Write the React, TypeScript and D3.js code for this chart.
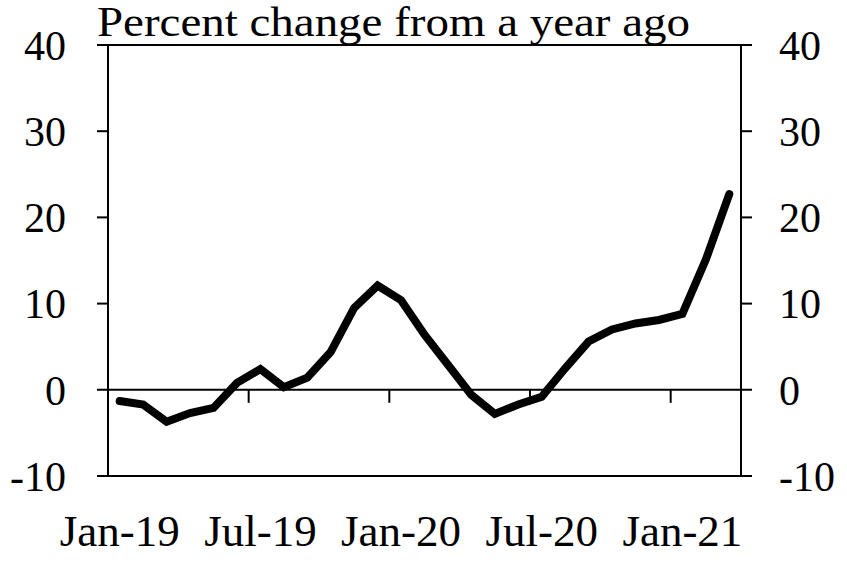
import React from "react";
import * as d3 from "d3";

const months = [
  "Jan-19","Feb-19","Mar-19","Apr-19","May-19","Jun-19","Jul-19","Aug-19","Sep-19","Oct-19","Nov-19","Dec-19",
  "Jan-20","Feb-20","Mar-20","Apr-20","May-20","Jun-20","Jul-20","Aug-20","Sep-20","Oct-20","Nov-20","Dec-20",
  "Jan-21","Feb-21","Mar-21",
];
const values = [
  -1.3, -1.7, -3.7, -2.7, -2.1, 0.8, 2.4, 0.3, 1.4, 4.4, 9.5, 12.1,
  10.4, 6.4, 2.9, -0.6, -2.8, -1.7, -0.8, 2.5, 5.6, 7.0, 7.7, 8.1,
  8.8, 15.1, 22.7,
];
const yTicks = [-10, 0, 10, 20, 30, 40];
const xLabelMonths = ["Jan-19", "Jul-19", "Jan-20", "Jul-20", "Jan-21"];
const xTickMonths = ["Jul-19", "Jan-20", "Jul-20", "Jan-21"];
const title = "Percent change from a year ago";

const W = 847, H = 564;
const L = 108, R = 741, T = 45, B = 476;
const FONT = "'Liberation Serif', 'Times New Roman', serif";

export default function App() {
  const x = d3.scaleBand<string>().domain(months).range([L, R]).padding(0);
  const y = d3.scaleLinear().domain([-10, 40]).range([B, T]);
  const cx = (m: string) => (x(m) as number) + x.bandwidth() / 2;
  const line = d3
    .line<number>()
    .x((_, i) => cx(months[i]))
    .y((v) => y(v));
  const tick = 11;

  return (
    <svg width={W} height={H} style={{ position: "absolute", left: 0, top: 0, background: "#fff" }}>
      <rect x={0} y={0} width={W} height={H} fill="#fff" />
      <line x1={L} x2={L} y1={T} y2={B} stroke="#000" strokeWidth={2} />
      <line x1={R} x2={R} y1={T} y2={B} stroke="#000" strokeWidth={2} />
      {yTicks.map((t) => {
        const full = t === -10 || t === 0 || t === 40;
        return (
          <g key={t}>
            {full ? (
              <line x1={L - tick} x2={R + tick} y1={y(t)} y2={y(t)} stroke="#000" strokeWidth={2} />
            ) : (
              <>
                <line x1={L - tick} x2={L} y1={y(t)} y2={y(t)} stroke="#000" strokeWidth={2} />
                <line x1={R} x2={R + tick} y1={y(t)} y2={y(t)} stroke="#000" strokeWidth={2} />
              </>
            )}
            <text x={66} y={y(t)} dy="0.35em" textAnchor="end" fontFamily={FONT} fontSize={42} fill="#000">
              {t}
            </text>
            <text x={779} y={y(t)} dy="0.35em" textAnchor="start" fontFamily={FONT} fontSize={42} fill="#000">
              {t}
            </text>
          </g>
        );
      })}
      {xTickMonths.map((m) => (
        <line key={m} x1={x(m)} x2={x(m)} y1={y(0)} y2={y(0) + 13} stroke="#000" strokeWidth={2} />
      ))}
      {xLabelMonths.map((m) => (
        <text key={m} x={cx(m)} y={546} textAnchor="middle" fontFamily={FONT} fontSize={45} fill="#000">
          {m}
        </text>
      ))}
      <text x={97} y={36} fontFamily={FONT} fontSize={42} textLength={593} lengthAdjust="spacingAndGlyphs" fill="#000">
        {title}
      </text>
      <path
        d={line(values) || ""}
        fill="none"
        stroke="#000"
        strokeWidth={8}
        strokeLinecap="round"
        strokeLinejoin="miter"
      />
    </svg>
  );
}
